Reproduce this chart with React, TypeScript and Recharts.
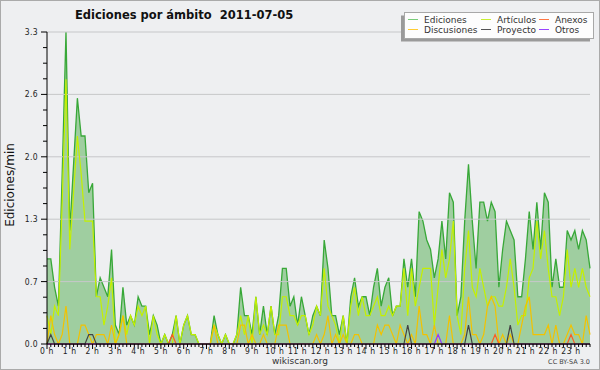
import { ComposedChart, Area, Line, XAxis, YAxis, ReferenceLine } from 'recharts';

// edits per minute, one value per 10 minutes (144 per day)
const ediciones = [
  0.9, 0.9, 0.6, 0.4, 1.8, 3.3, 1.2, 1.9, 2.6, 2.2, 2.2, 1.6,
  1.7, 0.5, 0.7, 0.6, 0.5, 1.0, 0.2, 0.1, 0.6, 0.2, 0.3, 0.2,
  0.5, 0.4, 0.4, 0.1, 0.3, 0.2, 0.0, 0.1, 0.0, 0.1, 0.3, 0.0,
  0.2, 0.3, 0.1, 0.1, 0.0, 0.0, 0.0, 0.0, 0.3, 0.1, 0.0, 0.1,
  0.0, 0.0, 0.1, 0.6, 0.3, 0.3, 0.1, 0.5, 0.1, 0.4, 0.1, 0.4,
  0.1, 0.3, 0.8, 0.8, 0.4, 0.5, 0.2, 0.5, 0.3, 0.1, 0.3, 0.4,
  0.3, 1.1, 0.8, 0.3, 0.3, 0.1, 0.3, 0.0, 0.5, 0.7, 0.4, 0.5,
  0.5, 0.3, 0.6, 0.8, 0.4, 0.6, 0.7, 0.3, 0.4, 0.4, 0.9, 0.6,
  0.9, 0.5, 1.4, 1.3, 1.1, 1.0, 0.7, 0.9, 1.3, 0.9, 1.6, 1.5,
  0.3, 0.5, 1.3, 1.9, 1.3, 0.8, 1.5, 1.5, 1.3, 1.5, 1.4, 0.6,
  1.0, 1.3, 1.2, 1.1, 0.5, 0.5, 0.9, 1.4, 1.0, 1.5, 1.0, 1.6,
  1.5, 0.6, 0.9, 0.6, 0.6, 1.2, 1.1, 1.2, 1.0, 1.2, 1.1, 0.8,
];

const articulos = [
  0.3, 0.1, 0.4, 0.3, 1.5, 2.8, 1.0, 1.6, 2.2, 1.8, 1.3, 1.3,
  1.3, 0.5, 0.5, 0.2, 0.4, 0.7, 0.0, 0.1, 0.3, 0.1, 0.3, 0.2,
  0.4, 0.3, 0.4, 0.0, 0.3, 0.1, 0.0, 0.1, 0.0, 0.0, 0.3, 0.0,
  0.2, 0.3, 0.1, 0.1, 0.0, 0.0, 0.0, 0.0, 0.2, 0.1, 0.0, 0.1,
  0.0, 0.0, 0.1, 0.3, 0.1, 0.3, 0.0, 0.5, 0.1, 0.2, 0.1, 0.4,
  0.1, 0.1, 0.5, 0.5, 0.3, 0.3, 0.2, 0.3, 0.3, 0.1, 0.2, 0.4,
  0.3, 0.8, 0.4, 0.3, 0.2, 0.0, 0.3, 0.0, 0.4, 0.6, 0.3, 0.5,
  0.3, 0.3, 0.4, 0.5, 0.3, 0.3, 0.4, 0.3, 0.4, 0.4, 0.8, 0.3,
  0.8, 0.4, 0.6, 0.8, 0.8, 0.8, 0.2, 0.6, 1.0, 0.7, 0.9, 1.3,
  0.3, 0.1, 0.8, 1.2, 0.6, 0.5, 0.8, 0.6, 0.4, 0.5, 0.5, 0.4,
  0.4, 0.6, 0.9, 0.6, 0.2, 0.3, 0.3, 0.7, 0.8, 1.3, 0.9, 1.2,
  0.8, 0.5, 0.5, 0.3, 0.5, 1.0, 0.6, 0.8, 0.6, 0.8, 0.6, 0.5,
];

const discusiones = [
  0.0, 0.3, 0.1, 0.0, 0.1, 0.4, 0.0, 0.0, 0.0, 0.2, 0.2, 0.1,
  0.0, 0.1, 0.1, 0.1, 0.0, 0.2, 0.0, 0.1, 0.3, 0.0, 0.0, 0.0,
  0.0, 0.0, 0.0, 0.0, 0.0, 0.0, 0.0, 0.0, 0.0, 0.0, 0.0, 0.0,
  0.0, 0.0, 0.0, 0.0, 0.0, 0.0, 0.0, 0.0, 0.2, 0.0, 0.0, 0.0,
  0.0, 0.0, 0.0, 0.2, 0.2, 0.0, 0.1, 0.0, 0.0, 0.1, 0.0, 0.0,
  0.0, 0.2, 0.2, 0.2, 0.0, 0.0, 0.0, 0.0, 0.0, 0.0, 0.0, 0.1,
  0.0, 0.1, 0.3, 0.0, 0.1, 0.0, 0.1, 0.0, 0.0, 0.1, 0.1, 0.0,
  0.0, 0.0, 0.0, 0.2, 0.1, 0.2, 0.2, 0.1, 0.0, 0.2, 0.1, 0.0,
  0.1, 0.0, 0.4, 0.1, 0.1, 0.0, 0.2, 0.0, 0.0, 0.0, 0.3, 0.0,
  0.0, 0.0, 0.1, 0.5, 0.1, 0.1, 0.0, 0.1, 0.4, 0.5, 0.4, 0.0,
  0.1, 0.0, 0.1, 0.0, 0.0, 0.2, 0.4, 0.5, 0.1, 0.1, 0.1, 0.1,
  0.2, 0.0, 0.2, 0.0, 0.0, 0.1, 0.2, 0.1, 0.1, 0.0, 0.3, 0.1,
];

const proyecto = [
  0.0, 0.1, 0.0, 0.0, 0.0, 0.0, 0.0, 0.0, 0.0, 0.0, 0.0, 0.1,
  0.1, 0.0, 0.0, 0.0, 0.0, 0.0, 0.0, 0.0, 0.0, 0.0, 0.0, 0.0,
  0.0, 0.0, 0.0, 0.0, 0.0, 0.0, 0.0, 0.0, 0.0, 0.0, 0.0, 0.0,
  0.0, 0.0, 0.0, 0.0, 0.0, 0.0, 0.0, 0.0, 0.0, 0.0, 0.0, 0.0,
  0.0, 0.0, 0.0, 0.0, 0.0, 0.0, 0.0, 0.0, 0.0, 0.0, 0.0, 0.0,
  0.0, 0.0, 0.0, 0.0, 0.0, 0.0, 0.0, 0.0, 0.0, 0.0, 0.0, 0.0,
  0.0, 0.0, 0.0, 0.0, 0.0, 0.0, 0.0, 0.0, 0.0, 0.0, 0.0, 0.0,
  0.0, 0.0, 0.0, 0.0, 0.0, 0.0, 0.0, 0.0, 0.0, 0.0, 0.0, 0.2,
  0.0, 0.0, 0.0, 0.0, 0.0, 0.0, 0.0, 0.0, 0.0, 0.0, 0.0, 0.0,
  0.0, 0.0, 0.0, 0.2, 0.0, 0.0, 0.0, 0.0, 0.0, 0.0, 0.0, 0.0,
  0.0, 0.0, 0.2, 0.0, 0.0, 0.0, 0.0, 0.0, 0.0, 0.0, 0.0, 0.0,
  0.0, 0.0, 0.0, 0.0, 0.0, 0.0, 0.0, 0.0, 0.0, 0.0, 0.0, 0.0,
];

const anexos = [
  0.0, 0.0, 0.0, 0.0, 0.0, 0.0, 0.0, 0.0, 0.0, 0.0, 0.0, 0.0,
  0.0, 0.0, 0.0, 0.0, 0.0, 0.0, 0.0, 0.0, 0.0, 0.0, 0.0, 0.0,
  0.0, 0.0, 0.0, 0.0, 0.0, 0.0, 0.0, 0.0, 0.0, 0.1, 0.0, 0.0,
  0.0, 0.0, 0.0, 0.0, 0.0, 0.0, 0.0, 0.0, 0.0, 0.0, 0.0, 0.0,
  0.0, 0.0, 0.0, 0.0, 0.0, 0.0, 0.0, 0.0, 0.0, 0.0, 0.0, 0.0,
  0.0, 0.0, 0.0, 0.0, 0.0, 0.0, 0.0, 0.0, 0.0, 0.0, 0.0, 0.0,
  0.0, 0.0, 0.0, 0.0, 0.0, 0.0, 0.0, 0.0, 0.0, 0.0, 0.0, 0.0,
  0.0, 0.0, 0.0, 0.0, 0.0, 0.0, 0.0, 0.0, 0.0, 0.0, 0.0, 0.0,
  0.0, 0.0, 0.0, 0.0, 0.0, 0.0, 0.0, 0.0, 0.0, 0.0, 0.0, 0.0,
  0.0, 0.0, 0.0, 0.0, 0.0, 0.0, 0.0, 0.0, 0.0, 0.0, 0.1, 0.0,
  0.0, 0.0, 0.0, 0.0, 0.0, 0.0, 0.0, 0.0, 0.0, 0.0, 0.0, 0.0,
  0.0, 0.0, 0.0, 0.0, 0.0, 0.0, 0.1, 0.0, 0.0, 0.0, 0.0, 0.0,
];

const otros = [
  0.0, 0.0, 0.0, 0.0, 0.0, 0.0, 0.0, 0.0, 0.0, 0.0, 0.0, 0.0,
  0.0, 0.0, 0.0, 0.0, 0.0, 0.0, 0.0, 0.0, 0.0, 0.0, 0.0, 0.0,
  0.0, 0.0, 0.0, 0.0, 0.0, 0.0, 0.0, 0.0, 0.0, 0.0, 0.0, 0.0,
  0.0, 0.0, 0.0, 0.0, 0.0, 0.0, 0.0, 0.0, 0.0, 0.0, 0.0, 0.0,
  0.0, 0.0, 0.0, 0.0, 0.0, 0.0, 0.0, 0.0, 0.0, 0.0, 0.0, 0.0,
  0.0, 0.0, 0.0, 0.0, 0.0, 0.0, 0.0, 0.0, 0.0, 0.0, 0.0, 0.0,
  0.0, 0.0, 0.0, 0.0, 0.0, 0.0, 0.0, 0.0, 0.0, 0.0, 0.0, 0.0,
  0.0, 0.0, 0.0, 0.0, 0.0, 0.0, 0.0, 0.0, 0.0, 0.0, 0.0, 0.0,
  0.0, 0.0, 0.0, 0.0, 0.0, 0.0, 0.0, 0.1, 0.0, 0.0, 0.0, 0.0,
  0.0, 0.0, 0.0, 0.0, 0.0, 0.0, 0.0, 0.0, 0.0, 0.0, 0.0, 0.0,
  0.0, 0.0, 0.0, 0.0, 0.0, 0.0, 0.0, 0.0, 0.0, 0.0, 0.0, 0.0,
  0.0, 0.0, 0.0, 0.0, 0.0, 0.0, 0.0, 0.0, 0.0, 0.0, 0.0, 0.0,
];

const HOURS = [
  '0 h', '1 h', '2 h', '3 h', '4 h', '5 h', '6 h', '7 h', '8 h', '9 h', '10 h', '11 h',
  '12 h', '13 h', '14 h', '15 h', '16 h', '17 h', '18 h', '19 h', '20 h', '21 h', '22 h', '23 h',
];

const Y_TICKS = [
  0, 0.165, 0.33, 0.495, 0.66, 0.825, 0.99, 1.155, 1.32, 1.485, 1.65,
  1.815, 1.98, 2.145, 2.31, 2.475, 2.64, 2.805, 2.97, 3.135, 3.3,
];
const Y_GRID = [0.66, 1.32, 1.98, 2.64, 3.3];

const LEGEND_ROWS = [
  [{ name: 'Ediciones', color: '#7acc7a' }, { name: 'Artículos', color: '#c8ee33' }, { name: 'Anexos', color: '#ff7744' }],
  [{ name: 'Discusiones', color: '#ffcc33' }, { name: 'Proyecto', color: '#555555' }, { name: 'Otros', color: '#9944ff' }],
];

const data = ediciones.map((v, i) => ({
  i,
  ediciones: v,
  articulos: articulos[i],
  discusiones: discusiones[i],
  proyecto: proyecto[i],
  anexos: anexos[i],
  otros: otros[i],
}));
const X_TICKS = data.map((d) => d.i);

const TICK_FONT = "'Liberation Sans Narrow', 'DejaVu Sans Condensed', sans-serif";
const TEXT_FONT = "'DejaVu Sans', sans-serif";

const XTick = ({ x, y, payload }: any) => {
  const idx = payload.value;
  const major = idx % 6 === 0;
  return (
    <g>
      <line x1={x} x2={x} y1={y} y2={y + (major ? 5 : 3)} stroke="#000" strokeWidth={1} />
      {major && (
        <text x={x} y={y + 10} textAnchor="middle" fontSize={8.5} fontFamily={TICK_FONT} fill="#222" letterSpacing={0.6}>
          {HOURS[idx / 6]}
        </text>
      )}
    </g>
  );
};

const YTick = ({ x, y, payload }: any) => {
  const v = payload.value;
  const major = Math.abs(v / 0.66 - Math.round(v / 0.66)) < 1e-6;
  return (
    <g>
      <line x1={x - (major ? 6 : 4)} x2={x} y1={y} y2={y} stroke="#000" strokeWidth={1} />
      {major && (
        <text x={x - 9} y={y + 3} textAnchor="end" fontSize={8.5} fontFamily={TICK_FONT} fill="#222" letterSpacing={0.4}>
          {v.toFixed(1)}
        </text>
      )}
    </g>
  );
};

export default function App() {
  const colX = [408, 481, 539];
  return (
    <div style={{ position: 'absolute', left: 0, top: 0, width: 600, height: 370, background: '#eeeff1', boxShadow: 'inset 0 0 0 1px #aaaaaa' }}>
      <ComposedChart width={600} height={370} data={data} margin={{ top: 32, right: 10, bottom: 0, left: 0 }}>
        {Y_GRID.map((v) => (
          <ReferenceLine key={v} y={v} stroke="#c6c7c9" strokeWidth={1} />
        ))}
        <XAxis
          dataKey="i"
          type="number"
          domain={[0, 143]}
          ticks={X_TICKS}
          interval={0}
          tickSize={0}
          tickMargin={0}
          tick={<XTick />}
          tickLine={false}
          axisLine={{ stroke: '#000' }}
          height={26}
        />
        <YAxis
          type="number"
          domain={[0, 3.3]}
          ticks={Y_TICKS}
          interval={0}
          tickSize={0}
          tickMargin={0}
          tick={<YTick />}
          tickLine={false}
          axisLine={{ stroke: '#000' }}
          width={47}
        />
        <Area type="linear" dataKey="ediciones" stroke="#38a838" strokeWidth={1.3} fill="#4fae4f" fillOpacity={0.5} dot={false} activeDot={false} isAnimationActive={false} />
        <Line type="linear" dataKey="articulos" stroke="#c4f000" strokeWidth={1.2} dot={false} activeDot={false} isAnimationActive={false} />
        <Line type="linear" dataKey="discusiones" stroke="#f2c200" strokeWidth={1.2} dot={false} activeDot={false} isAnimationActive={false} />
        <Line type="linear" dataKey="anexos" stroke="#ff5a22" strokeWidth={1.2} dot={false} activeDot={false} isAnimationActive={false} />
        <Line type="linear" dataKey="otros" stroke="#9933ff" strokeWidth={1.2} dot={false} activeDot={false} isAnimationActive={false} />
        <Line type="linear" dataKey="proyecto" stroke="#444444" strokeWidth={1.2} dot={false} activeDot={false} isAnimationActive={false} />
      </ComposedChart>

      <svg width={600} height={370} style={{ position: 'absolute', left: 0, top: 0, pointerEvents: 'none' }}>
        <text x={75} y={18.5} fontSize={11.5} fontWeight="bold" fontFamily={TEXT_FONT} fill="#111" style={{ whiteSpace: 'pre' }}>
          {'Ediciones por ámbito  2011-07-05'}
        </text>
        <text transform="translate(14,185) rotate(-90)" textAnchor="middle" fontSize={12} fontFamily={TEXT_FONT} fill="#111">
          Ediciones/min
        </text>
        <text x={300} y={363.5} textAnchor="middle" fontSize={9} fontFamily={TEXT_FONT} fill="#333">
          wikiscan.org
        </text>
        <text x={590} y={364} textAnchor="end" fontSize={6.5} fontFamily={TEXT_FONT} fill="#444">
          CC BY-SA 3.0
        </text>

        <rect x={401} y={15.5} width={189} height={26} fill="#9a9a9a" />
        <rect x={404.5} y={12.5} width={189} height={26} fill="#fdfdfd" stroke="#a8a8a8" strokeWidth={1} />
        {LEGEND_ROWS.map((row, r) =>
          row.map((item, c) => (
            <g key={item.name}>
              <line x1={colX[c]} x2={colX[c] + 10} y1={19.5 + r * 10} y2={19.5 + r * 10} stroke={item.color} strokeWidth={1} />
              <text x={colX[c] + 16} y={22.7 + r * 10} fontSize={9} fontFamily={TEXT_FONT} fill="#333">
                {item.name}
              </text>
            </g>
          ))
        )}
      </svg>
    </div>
  );
}
